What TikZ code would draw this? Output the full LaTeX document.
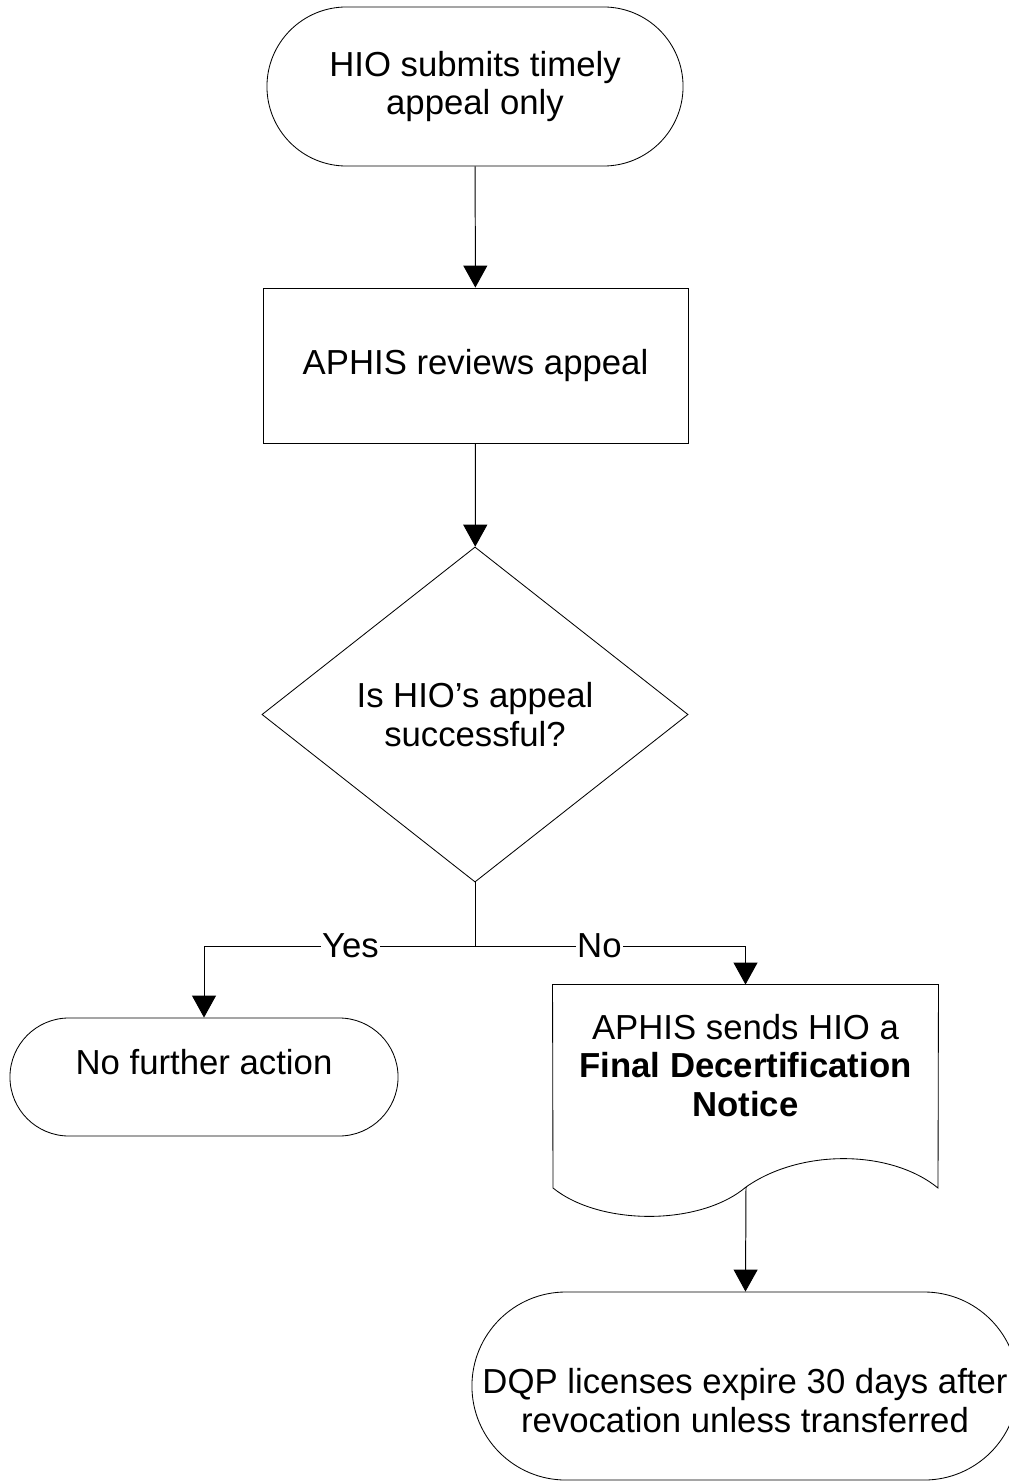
\documentclass[tikz,border=0pt]{standalone}
\usepackage{fontspec}
\setmainfont{Liberation Sans}
\usepackage{tikz}
\usetikzlibrary{arrows.meta, positioning, shapes.geometric}

\tikzset{
  box/.style={draw, line width=0.6pt, inner sep=0pt, align=center,
              font=\fontsize{24.7}{27.5}\selectfont},
  terminal/.style={box, rectangle, rounded corners=#1},
  process/.style={box, rectangle},
  decision/.style={box, diamond},
  flow/.style={line width=0.7pt},
  arrow/.style={flow, -{Triangle[length=0.55cm, width=0.6cm]}},
  branchlabel/.style={fill=white, inner sep=1pt,
                      font=\fontsize{24.7}{27.5}\selectfont}
}

\begin{document}
\begin{tikzpicture}[x=0.025cm, y=-0.025cm]
  \useasboundingbox (0,0) rectangle (1008,1484);

  \node[terminal=1.9875cm, minimum width=10.4cm, minimum height=3.975cm]
    (submit) at (475,86.5) {HIO submits timely\\appeal only};
  \node[process, minimum width=10.625cm, minimum height=3.875cm]
    (review) at (475.5,365.5) {APHIS reviews appeal};
  \node[decision, minimum width=10.65cm, minimum height=8.375cm]
    (success) at (475,714.5) {Is HIO’s appeal\\successful?};
  \node[terminal=1.475cm, minimum width=9.7cm, minimum height=2.95cm,
        text depth=0.75cm]
    (noaction) at (204,1077) {No further action};
  \node[box, draw=none, minimum width=9.625cm, minimum height=4.025cm]
    (notice) at (745.5,1065.5)
    {APHIS sends HIO a\\\textbf{Final Decertification}\\\textbf{Notice}};
  \node[terminal=2.35cm, minimum width=13.65cm, minimum height=4.7cm,
        text height=2.33cm]
    (expire) at (745,1386)
    {DQP licenses expire 30 days after\\revocation unless transferred};

  \draw[line width=0.6pt] (notice.north west) -- (notice.north east) -- (938,1188)
    .. controls (890,1149) and (800,1149) .. (746,1187) coordinate (wave)
    .. controls (700,1226) and (600,1226) .. (553,1188) -- cycle;

  \coordinate (split) at (475,946);

  \draw[arrow] (submit) -- (review);
  \draw[arrow] (review) -- (success);
  \draw[flow] (success.south) -- (split);
  \draw[arrow] (split) -| node[branchlabel, pos=0.23] {Yes} (noaction.north);
  \draw[arrow] (split) -| node[branchlabel, pos=0.23] {No} (notice.north);
  \draw[arrow] (wave) -- (expire);
\end{tikzpicture}
\end{document}
